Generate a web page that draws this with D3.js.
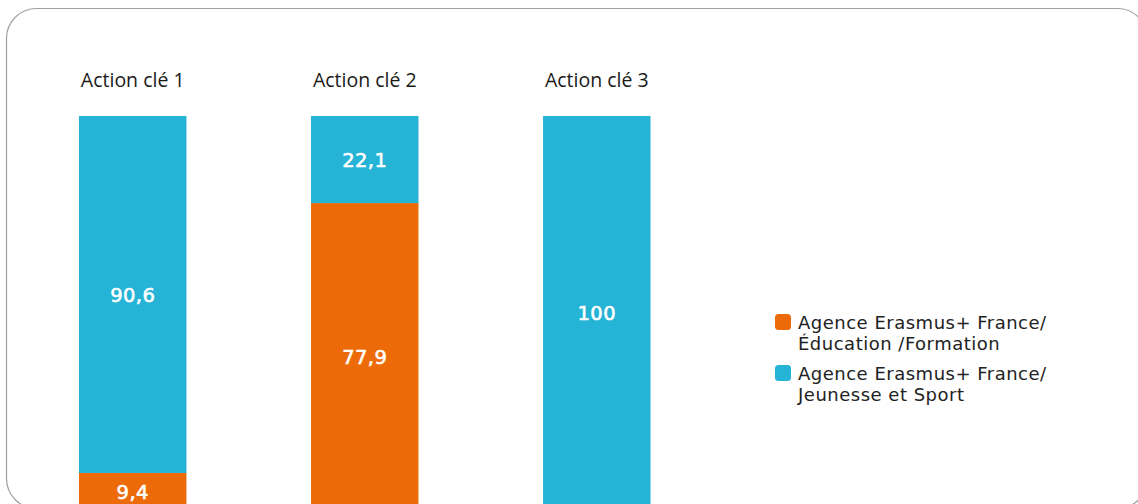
<!DOCTYPE html>
<html>
<head>
<meta charset="utf-8">
<script src="https://cdn.jsdelivr.net/npm/d3@7"></script>
<style>
    html, body { margin: 0; padding: 0; background: #fff; overflow: hidden; }
    svg { display: block; }
</style>
</head>
<body>
<div id="chart"></div>
<script>
// data
var categories = ['Action clé 1', 'Action clé 2', 'Action clé 3'];
var seriesKeys = ['education', 'jeunesse'];
var education = [9.4, 77.9, 0];
var jeunesse = [90.6, 22.1, 100];
var legendLines = {
    'education': ['Agence Erasmus+ France/', 'Éducation /Formation'],
    'jeunesse': ['Agence Erasmus+ France/', 'Jeunesse et Sport']
};

var colors = {
    'education': '#ec6b08',
    'jeunesse': '#25b3d6'
};

var width = 1138, height = 504;

var svg = d3.select('#chart')
    .append('svg')
    .attr('width', width)
    .attr('height', height);

// rounded frame, runs off the right and bottom edges
svg.append('rect')
    .attr('x', 6.5)
    .attr('y', 8.5)
    .attr('width', 1141)
    .attr('height', 500)
    .attr('rx', 30)
    .attr('ry', 30)
    .style('fill', 'none')
    .style('stroke', '#a0a0a0')
    .style('stroke-width', 1.2);

var rows = categories.map(function (c, i) {
    return { cat: c, education: education[i], jeunesse: jeunesse[i] };
});

var stacked = d3.stack().keys(seriesKeys)(rows);

var x = d3.scaleBand()
    .domain(categories)
    .range([79, 650.5])
    .paddingInner(0.537)
    .paddingOuter(0);

var y = d3.scaleLinear()
    .domain([0, 100])
    .range([510, 116]);

var fr = d3.formatLocale({ decimal: ',', thousands: ' ', grouping: [3], currency: ['', ' €'] });
var fmt = fr.format('.1~f');

var layers = svg.selectAll('g.layer')
    .data(stacked)
    .enter()
    .append('g')
    .attr('class', 'layer')
    .style('fill', function (d) { return colors[d.key]; });

layers.selectAll('rect')
    .data(function (d) { return d; })
    .enter()
    .append('rect')
    .attr('x', function (d) { return x(d.data.cat); })
    .attr('y', function (d) { return y(d[1]); })
    .attr('width', x.bandwidth())
    .attr('height', function (d) { return y(d[0]) - y(d[1]); });

// value labels
stacked.forEach(function (layer) {
    svg.append('g')
        .selectAll('text')
        .data(layer.filter(function (d) { return d[1] - d[0] > 0; }))
        .enter()
        .append('text')
        .attr('x', function (d) { return x(d.data.cat) + x.bandwidth() / 2; })
        .attr('y', function (d) { return (y(d[0]) + y(d[1])) / 2; })
        .attr('dy', '0.36em')
        .attr('text-anchor', 'middle')
        .style('font-family', "'DejaVu Sans', sans-serif")
        .style('font-size', '19.5px')
        .style('letter-spacing', '0.4px')
        .style('fill', '#fff')
        .style('stroke', '#fff')
        .style('stroke-width', 0.6)
        .text(function (d) { return fmt(d[1] - d[0]); });
});

// category titles above the bars
svg.append('g')
    .selectAll('text')
    .data(categories)
    .enter()
    .append('text')
    .attr('x', function (d) { return x(d) + x.bandwidth() / 2; })
    .attr('y', 87)
    .attr('text-anchor', 'middle')
    .style('font-family', "'Open Sans', sans-serif")
    .style('font-size', '19.5px')
    .style('fill', '#1a1a1a')
    .text(function (d) { return d; });

// legend
var legend = svg.append('g')
    .attr('transform', 'translate(775,314)');

var items = legend.selectAll('g')
    .data(seriesKeys)
    .enter()
    .append('g')
    .attr('transform', function (d, i) { return 'translate(0,' + (i * 51) + ')'; });

items.append('rect')
    .attr('width', 16)
    .attr('height', 16)
    .attr('rx', 3.5)
    .style('fill', function (d) { return colors[d]; });

items.append('text')
    .attr('x', 23)
    .attr('y', 15)
    .style('font-family', "'DejaVu Sans', sans-serif")
    .style('font-size', '18px')
    .style('letter-spacing', '0.5px')
    .style('fill', '#222')
    .selectAll('tspan')
    .data(function (d) { return legendLines[d]; })
    .enter()
    .append('tspan')
    .attr('x', 23)
    .attr('dy', function (d, i) { return i === 0 ? 0 : 21; })
    .text(function (d) { return d; });
</script>
</body>
</html>
